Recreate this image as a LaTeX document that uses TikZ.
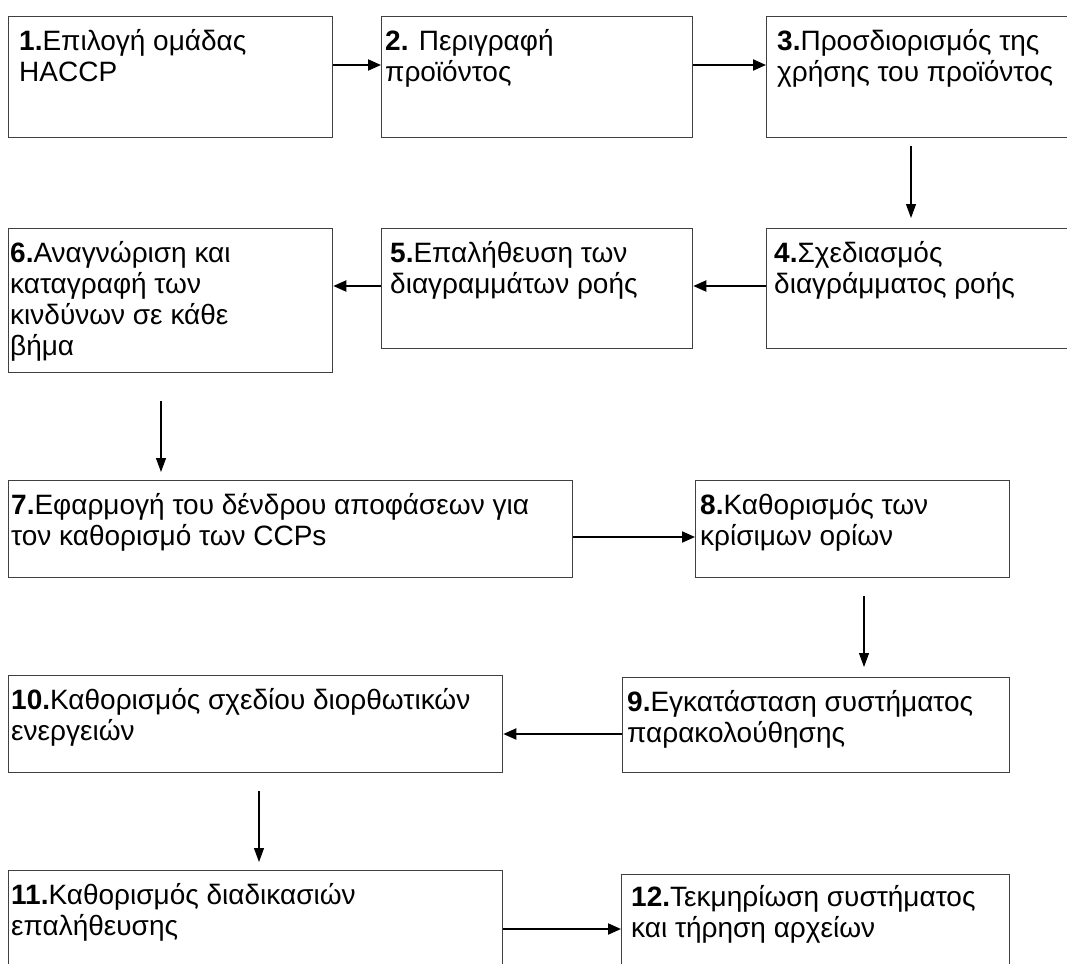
\documentclass[tikz,border=0pt]{standalone}
\usepackage{fontspec}
\setmainfont{Liberation Sans}
\usetikzlibrary{arrows.meta, positioning}

\tikzset{
  stepbox/.style={draw=black!75, line width=1.3pt, anchor=north west, inner sep=0pt},
  steptext/.style={anchor=north west, inner sep=0pt, align=left,
    font=\fontsize{28}{31}\selectfont, execute at begin node={\rule{0pt}{24pt}}},
  flow/.style={line width=2pt, -{Triangle[length=13pt,width=11pt]}},
  vflow/.style={line width=1.1pt, -{Triangle[length=14pt,width=10pt]}},
}

\begin{document}
\begin{tikzpicture}[x=1pt, y=-1pt]
    \useasboundingbox (0,0) rectangle (1067,963);
    % row 1
    \node[stepbox, minimum width=324pt, minimum height=121pt] (s1) at (8,16) {};
    \node[stepbox, minimum width=311pt, minimum height=121pt] (s2) at (381,16) {};
    \node[stepbox, minimum width=320pt, minimum height=121pt] (s3) at (766,16) {};
    \node[steptext] (t1) at ([shift={(11pt,-13pt)}]s1.north west) {\textbf{1.}Επιλογή ομάδας\\HACCP};
    \node[steptext] (t2) at ([shift={(4pt,-13pt)}]s2.north west) {\textbf{2.} Περιγραφή\\προϊόντος};
    \node[steptext] (t3) at ([shift={(11pt,-13pt)}]s3.north west) {\textbf{3.}Προσδιορισμός της\\χρήσης του προϊόντος};
    \draw[flow] (s1.east |- 0,65) -- (s2.west |- 0,65);
    \draw[flow] (s2.east |- 0,65) -- (s3.west |- 0,65);
    % row 2
    \node[stepbox, minimum width=320pt, minimum height=120pt] (s4) at (766,228) {};
    \node[stepbox, minimum width=311pt, minimum height=120pt] (s5) at (381,228) {};
    \node[stepbox, minimum width=324pt, minimum height=144pt] (s6) at (8,228) {};
    \node[steptext] (t4) at ([shift={(8pt,-13pt)}]s4.north west) {\textbf{4.}Σχεδιασμός\\διαγράμματος ροής};
    \node[steptext] (t5) at ([shift={(9pt,-13pt)}]s5.north west) {\textbf{5.}Επαλήθευση των\\διαγραμμάτων ροής};
    \node[steptext] (t6) at ([shift={(2pt,-13pt)}]s6.north west) {\textbf{6.}Αναγνώριση και\\καταγραφή των\\κινδύνων σε κάθε\\βήμα};
    \draw[vflow, shorten <=8pt, shorten >=10pt] (s3.south -| 911,0) -- (s4.north -| 911,0);
    \draw[flow] (s4.west |- 0,286) -- (s5.east |- 0,286);
    \draw[flow] (s5.west |- 0,286) -- (s6.east |- 0,286);
    % row 3
    \node[stepbox, minimum width=564pt, minimum height=97pt] (s7) at (8,480) {};
    \node[stepbox, minimum width=314pt, minimum height=97pt] (s8) at (695,480) {};
    \node[steptext] (t7) at ([shift={(3pt,-13pt)}]s7.north west) {\textbf{7.}Εφαρμογή του δένδρου αποφάσεων για\\τον καθορισμό των CCPs};
    \node[steptext] (t8) at ([shift={(5pt,-13pt)}]s8.north west) {\textbf{8.}Καθορισμός των\\κρίσιμων ορίων};
    \draw[vflow, shorten <=28pt, shorten >=8pt] (s6.south -| 161,0) -- (s7.north -| 161,0);
    \draw[flow] (s7.east |- 0,537) -- (s8.west |- 0,537);
    % row 4
    \node[stepbox, minimum width=387pt, minimum height=95pt] (s9) at (622,677) {};
    \node[stepbox, minimum width=494pt, minimum height=97pt] (s10) at (8,675) {};
    \node[steptext] (t9) at ([shift={(5pt,-13pt)}]s9.north west) {\textbf{9.}Εγκατάσταση συστήματος\\παρακολούθησης};
    \node[steptext] (t10) at ([shift={(3pt,-13pt)}]s10.north west) {\textbf{10.}Καθορισμός σχεδίου διορθωτικών\\ενεργειών};
    \draw[vflow, shorten <=18pt, shorten >=10pt] (s8.south -| 864,0) -- (s9.north -| 864,0);
    \draw[flow] (s9.west |- 0,734) -- (s10.east |- 0,734);
    % row 5
    \node[stepbox, minimum width=494pt, minimum height=110pt] (s11) at (8,870) {};
    \node[stepbox, minimum width=388pt, minimum height=110pt] (s12) at (621,874) {};
    \node[steptext] (t11) at ([shift={(3pt,-13pt)}]s11.north west) {\textbf{11.}Καθορισμός διαδικασιών\\επαλήθευσης};
    \node[steptext] (t12) at ([shift={(10pt,-11pt)}]s12.north west) {\textbf{12.}Τεκμηρίωση συστήματος\\και τήρηση αρχείων};
    \draw[vflow, shorten <=18pt, shorten >=8pt] (s10.south -| 259,0) -- (s11.north -| 259,0);
    \draw[flow] (s11.east |- 0,929) -- (s12.west |- 0,929);
\end{tikzpicture}
\end{document}
